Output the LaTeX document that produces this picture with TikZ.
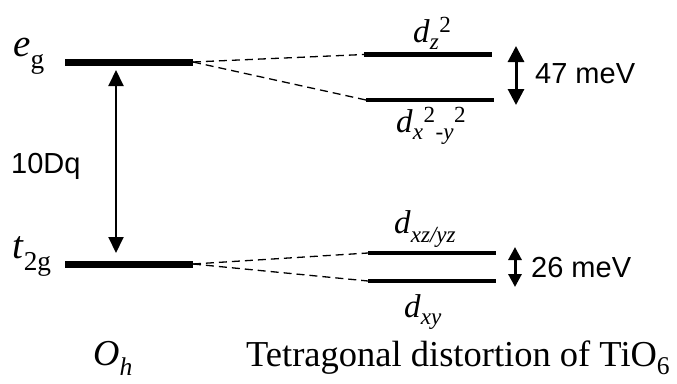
\documentclass[tikz,border=0pt]{standalone}
\usepackage{fontspec}
\setmainfont{Liberation Serif}
\newfontfamily\arialfont{Liberation Sans}
\usetikzlibrary{arrows.meta}
\newcommand{\lsub}[2][0.1em]{\raisebox{-#1}{\textsubscript{#2}}}
\newcommand{\lsup}[1]{\textsuperscript{#1}}
\begin{document}
\begin{tikzpicture}[x=1pt,y=-1pt,
  level/.style={line width=7pt},
  sublevel/.style={line width=4.5pt},
  split/.style={dash pattern=on 8pt off 5pt, line width=1.3pt},
  gapbig/.style={{Triangle[width=15pt,length=16pt]}-{Triangle[width=15pt,length=16pt]}, line width=2pt},
  gapsmall/.style={{Triangle[width=16pt,length=16pt]}-{Triangle[width=16pt,length=16pt]}, line width=3pt},
  gaptiny/.style={{Triangle[width=13pt,length=13pt]}-{Triangle[width=13pt,length=13pt]}, line width=3pt},
  sym/.style={inner sep=0pt, anchor=base west, font=\fontsize{39}{42}\selectfont},
  orb/.style={inner sep=0pt, anchor=base west, font=\fontsize{33}{36}\selectfont},
  capt/.style={inner sep=0pt, anchor=base west, font=\fontsize{36.5}{40}\selectfont},
  val/.style={inner sep=0pt, anchor=west, font=\arialfont\fontsize{29}{32}\selectfont},
]
\useasboundingbox (0,0) rectangle (677,383);
% Oh levels
\coordinate (egL) at (65,62);   \coordinate (egR) at (193,62);
\coordinate (tgL) at (65,264);  \coordinate (tgR) at (193,264);
\draw[level] (egL) -- (egR);
\draw[level] (tgL) -- (tgR);
\node[sym] (eg) at (13,56) {\textit{e}\lsub[0.18em]{g}};
\node[sym] (tg) at (12,258) {\textit{t}\lsub[0.08em]{2g}};
\coordinate (tenTop) at (116,70);
\coordinate (tenBot) at (116,253);
\draw[gapbig] (tenTop) -- (tenBot);
\node[val] (tendq) at (11,166) {10Dq};
% tetragonal levels
\coordinate (dzL) at (364,54.5);  \coordinate (dzR) at (492,54.5);
\coordinate (dxL) at (366,100);   \coordinate (dxR) at (494,100);
\coordinate (dxzL) at (368,253);  \coordinate (dxzR) at (496,253);
\coordinate (dxyL) at (368,281);  \coordinate (dxyR) at (496,281);
\draw[sublevel] (dzL) -- (dzR);
\draw[sublevel] (dxL) -- (dxR);
\draw[sublevel] (dxzL) -- (dxzR);
\draw[sublevel] (dxyL) -- (dxyR);
\draw[split] (egR) -- (dzL);
\draw[split] (egR) -- (dxL);
\draw[split] (tgR) -- (dxzL);
\draw[split] (tgR) -- (dxyL);
\node[orb] (dz) at (413,42) {\textit{d}\lsub{\textit{z}}\lsup{2}};
\node[orb] (dx) at (396,132) {\textit{d}\lsub{\textit{x}}\lsup{2}\lsub{-\textit{y}}\lsup{2}};
\node[orb] (dxz) at (394,233) {\textit{d}\lsub{\textit{xz/yz}}};
\node[orb] (dxy) at (404,317) {\textit{d}\lsub{\textit{xy}}};
\coordinate (eTop) at (516,46);  \coordinate (eBot) at (516,105);
\coordinate (tTop) at (515,247); \coordinate (tBot) at (515,287);
\draw[gapsmall] (eTop) -- (eBot);
\draw[gaptiny] (tTop) -- (tBot);
\node[val] (mev47) at (535,74) {47 meV};
\node[val] (mev26) at (531,268) {26 meV};
\node[capt] (oh) at (93,365) {\textit{O}\lsub[0.05em]{\textit{h}}};
\node[capt] (tet) at (246,366) {Tetragonal distortion of TiO\textsubscript{6}};
\end{tikzpicture}
\end{document}
